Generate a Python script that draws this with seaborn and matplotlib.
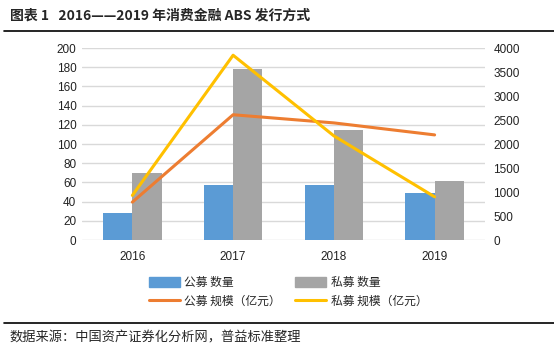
import pandas as pd
import matplotlib.pyplot as plt
import seaborn as sns
from matplotlib.patches import Patch
from matplotlib.lines import Line2D

years = ['2016', '2017', '2018', '2019']
public_count = [28, 57, 57, 49]
private_count = [70, 178, 115, 61]
public_size = [790, 2610, 2440, 2190]
private_size = [930, 3850, 2170, 900]

left_ticks = list(range(0, 201, 20))
right_ticks = list(range(0, 4001, 500))

title = '图表 1   2016——2019 年消费金融 ABS 发行方式'
source = '数据来源：中国资产证券化分析网，普益标准整理'

sns.set_theme(style='white')
plt.rcParams['font.family'] = ['Liberation Sans', 'Noto Sans CJK SC', 'DejaVu Sans']
cjk = ['Noto Sans CJK SC', 'DejaVu Sans']

blue, gray, orange, yellow = '#5B9BD5', '#A5A5A5', '#ED7D31', '#FFC000'

counts = pd.DataFrame({
    'year': years * 2,
    'type': ['公募 数量'] * 4 + ['私募 数量'] * 4,
    'count': public_count + private_count,
})

fig = plt.figure(figsize=(5.54, 3.56), dpi=100)
ax = fig.add_axes([0.148, 0.3258, 0.7274, 0.5393])

sns.barplot(data=counts, x='year', y='count', hue='type', palette=[blue, gray],
            width=0.58, saturation=1, linewidth=0, edgecolor='none', ax=ax, legend=False)
ax.set_ylim(0, 200)
ax.set_xlim(-0.5, 3.5)
ax.set_yticks(left_ticks)
ax.yaxis.grid(True, color='#D9D9D9', linewidth=1)
ax.set_axisbelow(True)
ax.set_xlabel('')
ax.set_ylabel('')
for s in ax.spines.values():
    s.set_visible(False)
ax.tick_params(axis='both', length=0, labelsize=8.5, colors='#222222', pad=4)
ax.tick_params(axis='x', pad=8)

ax2 = ax.twinx()
pos = list(range(len(years)))
sns.lineplot(x=pos, y=public_size, color=orange, linewidth=2.2, ax=ax2)
sns.lineplot(x=pos, y=private_size, color=yellow, linewidth=2.2, ax=ax2)
ax2.set_ylim(0, 4000)
ax2.set_yticks(right_ticks)
ax2.set_xlim(-0.5, 3.5)
for s in ax2.spines.values():
    s.set_visible(False)
ax2.tick_params(axis='y', length=0, labelsize=8.5, colors='#222222', pad=6)
ax2.grid(False)

handles = [
    Patch(color=blue, label='公募 数量'),
    Line2D([], [], color=orange, linewidth=2.2, label='公募 规模（亿元）'),
    Patch(color=gray, label='私募 数量'),
    Line2D([], [], color=yellow, linewidth=2.2, label='私募 规模（亿元）'),
]
fig.legend(handles=handles, ncol=2, loc='center', bbox_to_anchor=(0.52, 0.18),
           frameon=False, prop={'family': cjk, 'size': 8.5}, handlelength=2.6,
           handleheight=0.9, columnspacing=1.2, labelspacing=0.45, handletextpad=0.4)

fig.text(0.018, 0.957, title, fontsize=10, fontweight='bold', family=cjk, va='center')
fig.add_artist(Line2D([0.007, 1.0], [0.913, 0.913], color='black', linewidth=1.2))
fig.add_artist(Line2D([0.007, 1.0], [0.093, 0.093], color='black', linewidth=1.2))
fig.text(0.018, 0.052, source, fontsize=9.5, family=cjk, va='center')

fig.savefig('out.png', dpi=100)
